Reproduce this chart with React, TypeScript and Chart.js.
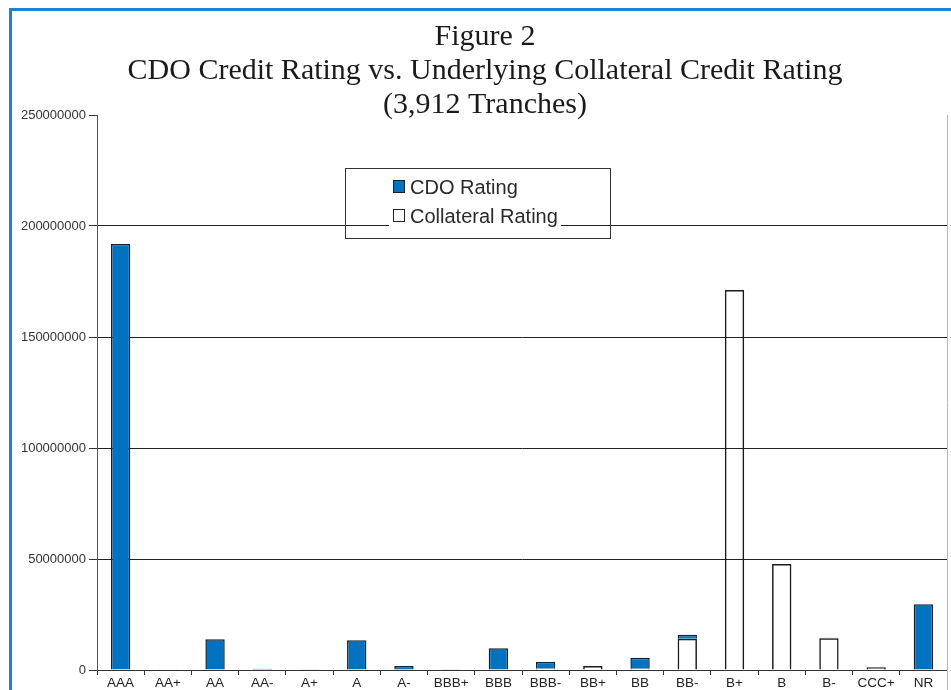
import React, { useEffect, useRef } from "react";
import { Chart, registerables } from "chart.js";

Chart.register(...registerables);

const categories = ["AAA", "AA+", "AA", "AA-", "A+", "A", "A-", "BBB+", "BBB", "BBB-", "BB+", "BB", "BB-", "B+", "B", "B-", "CCC+", "NR"];
const collateralValues = [0, 100000, 0, 0, 300000, 0, 0, 150000, 0, 700000, 1800000, 600000, 14100000, 171200000, 47700000, 14300000, 1200000, 0];
const cdoValues = [191900000, 0, 13800000, 600000, 0, 13400000, 1800000, 0, 9800000, 2900000, 0, 4900000, 1800000, 0, 0, 200000, 0, 29600000];
const yTicks = [0, 50000000, 100000000, 150000000, 200000000, 250000000];
const titleLines = ["Figure 2", "CDO Credit Rating vs. Underlying Collateral Credit Rating", "(3,912 Tranches)"];
const seriesNames = ["CDO Rating", "Collateral Rating"];

const BLUE = "#0172c0";
const SANS = '"Liberation Sans", Arial, sans-serif';

const overlayPlugin = {
  id: "overlay",
  afterDatasetsDraw(chart: any) {
    const ctx = chart.ctx;
    const { top, right } = chart.chartArea;
    ctx.save();
    // right border of plot area
    ctx.strokeStyle = "#b8b8b8";
    ctx.lineWidth = 1;
    ctx.beginPath();
    ctx.moveTo(Math.round(right) + 0.5, top);
    ctx.lineTo(Math.round(right) + 0.5, chart.height);
    ctx.stroke();

    // title
    ctx.fillStyle = "#1a1a1a";
    ctx.font = '30px "Liberation Serif", "Times New Roman", serif';
    ctx.textAlign = "center";
    ctx.textBaseline = "alphabetic";
    titleLines.forEach((t, i) => ctx.fillText(t, 485, 45 + i * 34));

    // legend
    const bx = 345.5, by = 168.5, bw = 265, bh = 70;
    ctx.strokeStyle = "#333";
    ctx.lineWidth = 1;
    ctx.strokeRect(bx, by, bw, bh);
    ctx.font = "20px " + SANS;
    ctx.textAlign = "left";
    ctx.textBaseline = "middle";
    const fills = [BLUE, "#ffffff"];
    const centers = [187, 216];
    seriesNames.forEach((name, i) => {
      const cy = centers[i];
      const tw = ctx.measureText(name).width;
      ctx.fillStyle = "#ffffff";
      ctx.fillRect(389, cy - 11, tw + 24, 22);
      ctx.fillStyle = fills[i];
      ctx.fillRect(393.5, cy - 6.5, 11, 12);
      ctx.strokeStyle = "#222";
      ctx.strokeRect(393.5, cy - 6.5, 11, 12);
      ctx.fillStyle = "#2a2a2a";
      ctx.fillText(name, 410, cy + 1);
    });
    ctx.restore();
  },
};

export default function App() {
  const ref = useRef<HTMLCanvasElement | null>(null);
  useEffect(() => {
    if (!ref.current) return;
    const chart = new Chart(ref.current, {
      type: "bar",
      data: {
        labels: categories,
        datasets: [
          {
            label: seriesNames[1],
            data: collateralValues,
            backgroundColor: "rgba(255,255,255,0)",
            borderColor: "#1a1a1a",
            borderWidth: 1.5,
            borderSkipped: "bottom",
          },
          {
            label: seriesNames[0],
            data: cdoValues,
            backgroundColor: BLUE,
            borderColor: "#14202e",
            borderWidth: 1.5,
            borderSkipped: "bottom",
          },
        ],
      },
      options: {
        responsive: false,
        animation: false,
        devicePixelRatio: 1,
        layout: { padding: { top: 115, right: 4, bottom: 0, left: 0 } },
        plugins: {
          legend: { display: false },
          title: { display: false },
          tooltip: { enabled: false },
        },
        datasets: { bar: { categoryPercentage: 1, barPercentage: 0.41 } },
        scales: {
          x: {
            stacked: true,
            offset: true,
            grid: { display: true, drawOnChartArea: false, offset: true, tickLength: 5, color: "#333" },
            border: { display: true, color: "#333", width: 1 },
            ticks: { color: "#222", font: { family: SANS, size: 13.5 }, padding: 0, maxRotation: 0, autoSkip: false },
            afterFit: (scale: any) => { scale.height = 20; },
          },
          y: {
            stacked: true,
            min: 0,
            max: 250000000,
            afterBuildTicks: (scale: any) => { scale.ticks = yTicks.map((v) => ({ value: v })); },
            grid: {
              color: (c: any) => (c.tick && c.tick.value === 250000000 ? "rgba(0,0,0,0)" : "#222"),
              tickColor: "#333",
              tickLength: 8,
            },
            border: { display: true, color: "#555", width: 1 },
            ticks: {
              color: "#333",
              font: { family: SANS, size: 13 },
              padding: 3,
              callback: (v: any) => String(v),
            },
            afterFit: (scale: any) => { scale.width = 97; },
          },
        },
      },
      plugins: [overlayPlugin],
    });
    return () => chart.destroy();
  }, []);

  return (
    <div style={{ position: "absolute", left: 0, top: 0, width: 951, height: 690, background: "#fff", overflow: "hidden" }}>
      <canvas ref={ref} width={951} height={690} style={{ position: "absolute", left: 0, top: 0, width: 951, height: 690 }} />
      <div style={{ position: "absolute", left: 9, top: 8, width: 3, height: 682, background: "#1b82d1" }} />
      <div style={{ position: "absolute", left: 9, top: 8, width: 942, height: 3, background: "#1b82d1" }} />
    </div>
  );
}
